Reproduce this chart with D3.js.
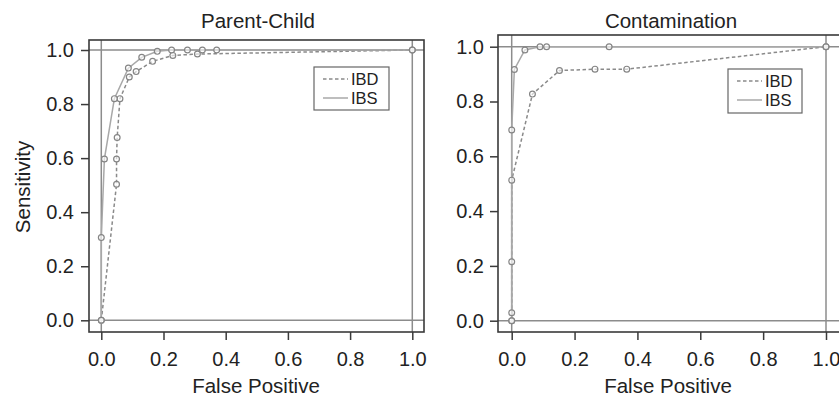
<!DOCTYPE html>
<html>
<head>
<meta charset="utf-8">
<script src="https://cdn.jsdelivr.net/npm/d3@7"></script>
<style>
  html, body { margin: 0; padding: 0; background: #fff; }
  svg { display: block; font-family: "Liberation Sans", Arial, Helvetica, sans-serif; }
</style>
</head>
<body>
<svg id="chart" width="839" height="397"></svg>
<script>
// ---------- data ----------
const panelTitles = ["Parent-Child", "Contamination"];
const seriesNames = ["IBD", "IBS"];
const xTickValues = [0, 0.2, 0.4, 0.6, 0.8, 1.0];
const yTickValues = [0, 0.2, 0.4, 0.6, 0.8, 1.0];
const xAxisTitle = "False Positive";
const yAxisTitle = "Sensitivity";

// Parent-Child
const pcIBD_fp   = [0, 0.049, 0.049, 0.051, 0.060, 0.090, 0.112, 0.165, 0.230, 0.309, 1.0];
const pcIBD_sens = [0, 0.503, 0.597, 0.676, 0.820, 0.900, 0.920, 0.958, 0.980, 0.985, 1.0];
const pcIBS_fp   = [0, 0, 0.010, 0.042, 0.087, 0.130, 0.180, 0.226, 0.277, 0.325, 0.371, 1.0];
const pcIBS_sens = [0, 0.306, 0.597, 0.820, 0.933, 0.973, 0.995, 1.0, 1.0, 1.0, 1.0, 1.0];

// Contamination
const ctIBD_fp   = [0, 0, 0.066, 0.152, 0.265, 0.366, 1.0];
const ctIBD_sens = [0, 0.513, 0.827, 0.913, 0.918, 0.918, 1.0];
const ctIBS_fp   = [0, 0, 0, 0, 0.0085, 0.042, 0.090, 0.111, 0.310, 1.0];
const ctIBS_sens = [0, 0.029, 0.215, 0.696, 0.917, 0.988, 1.0, 1.0, 1.0, 1.0];

// ---------- layout ----------
const layouts = [
  { box: [89, 40, 424, 332], x0: 101.3, x1: 412.3, y0: 320.3, y1: 50,
    title: [258, 28], xTitle: [256, 393], yTitle: [30, 187],
    legend: [314, 67, 389, 110], ylabPad: 7 },
  { box: [498, 35, 840, 332], x0: 511.7, x1: 826, y0: 320.7, y1: 46.7,
    title: [671, 28], xTitle: [668, 393], yTitle: null,
    legend: [728, 69, 802, 113], ylabPad: 6 }
];

const data = [
  [ {name: seriesNames[0], fp: pcIBD_fp, sens: pcIBD_sens},
    {name: seriesNames[1], fp: pcIBS_fp, sens: pcIBS_sens} ],
  [ {name: seriesNames[0], fp: ctIBD_fp, sens: ctIBD_sens},
    {name: seriesNames[1], fp: ctIBS_fp, sens: ctIBS_sens} ]
];

const style = {
  IBD: { stroke: "#8a8a8a", dash: "3.5,2.5", width: 1.5 },
  IBS: { stroke: "#a8a8a8", dash: null, width: 1.5 }
};

const svg = d3.select("#chart");
const textColor = "#222";

layouts.forEach((L, i) => {
  const g = svg.append("g");
  const [bx0, by0, bx1, by1] = L.box;
  const x = d3.scaleLinear().domain([0, 1]).range([L.x0, L.x1]);
  const y = d3.scaleLinear().domain([0, 1]).range([L.y0, L.y1]);

  // reference lines at 0 and 1
  [0, 1].forEach(v => {
    g.append("line").attr("x1", x(v)).attr("x2", x(v)).attr("y1", by0).attr("y2", by1)
      .attr("stroke", "#8c8c8c").attr("stroke-width", 1.5);
    g.append("line").attr("x1", bx0).attr("x2", bx1).attr("y1", y(v)).attr("y2", y(v))
      .attr("stroke", "#8c8c8c").attr("stroke-width", 1.5);
  });

  // series lines
  const line = d3.line().x(d => x(d[0])).y(d => y(d[1]));
  data[i].forEach(s => {
    const pts = s.fp.map((f, k) => [f, s.sens[k]]);
    const st = style[s.name];
    g.append("path").datum(pts).attr("d", line)
      .attr("fill", "none").attr("stroke", st.stroke).attr("stroke-width", st.width)
      .attr("stroke-dasharray", st.dash);
  });
  // markers
  data[i].forEach(s => {
    const pts = s.fp.map((f, k) => [f, s.sens[k]]);
    g.selectAll(null).data(pts).enter().append("circle")
      .attr("cx", d => x(d[0])).attr("cy", d => y(d[1])).attr("r", 2.9)
      .attr("fill", "#fff").attr("fill-opacity", 0.6)
      .attr("stroke", "#858585").attr("stroke-width", 1.2);
  });

  // frame
  g.append("rect").attr("x", bx0).attr("y", by0).attr("width", bx1 - bx0).attr("height", by1 - by0)
    .attr("fill", "none").attr("stroke", "#3a3a3a").attr("stroke-width", 1.6);

  // axes
  const yAxis = d3.axisLeft(y).tickValues(yTickValues).tickFormat(d3.format(".1f"))
    .tickSize(8).tickSizeOuter(0).tickPadding(L.ylabPad);
  const ya = g.append("g").attr("transform", `translate(${bx0},0)`).call(yAxis);
  const xAxis = d3.axisBottom(x).tickValues(xTickValues).tickFormat(d3.format(".1f"))
    .tickSize(8).tickSizeOuter(0).tickPadding(12);
  const xa = g.append("g").attr("transform", `translate(0,${by1})`).call(xAxis);
  [ya, xa].forEach(a => {
    a.select(".domain").remove();
    a.selectAll(".tick line").attr("stroke", "#3a3a3a").attr("stroke-width", 1.5);
    a.selectAll(".tick text").attr("fill", textColor).style("font-size", "20px");
  });

  // titles
  g.append("text").attr("x", L.title[0]).attr("y", L.title[1]).attr("text-anchor", "middle")
    .attr("fill", textColor).style("font-size", "20.5px").text(panelTitles[i]);
  g.append("text").attr("x", L.xTitle[0]).attr("y", L.xTitle[1]).attr("text-anchor", "middle")
    .attr("fill", textColor).style("font-size", "20.5px").text(xAxisTitle);
  if (L.yTitle) {
    g.append("text").attr("transform", `translate(${L.yTitle[0]},${L.yTitle[1]}) rotate(-90)`)
      .attr("text-anchor", "middle").attr("fill", textColor).style("font-size", "20.5px").text(yAxisTitle);
  }

  // legend
  const [lx0, ly0, lx1, ly1] = L.legend;
  g.append("rect").attr("x", lx0).attr("y", ly0).attr("width", lx1 - lx0).attr("height", ly1 - ly0)
    .attr("fill", "#fff").attr("stroke", "#666").attr("stroke-width", 1.2);
  seriesNames.forEach((n, k) => {
    const cy = ly0 + 12 + k * 19;
    const st = style[n];
    g.append("line").attr("x1", lx0 + 9).attr("x2", lx0 + 34).attr("y1", cy).attr("y2", cy)
      .attr("stroke", st.stroke).attr("stroke-width", st.width).attr("stroke-dasharray", st.dash);
    g.append("text").attr("x", lx0 + 37).attr("y", cy).attr("dy", "0.36em")
      .attr("fill", textColor).style("font-size", "16.5px").text(n);
  });
});
</script>
</body>
</html>
